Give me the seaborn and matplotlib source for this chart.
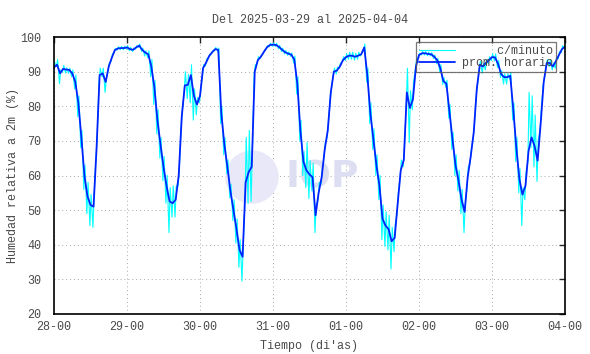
import numpy as np
import pandas as pd
import matplotlib
matplotlib.use('Agg')
import matplotlib.pyplot as plt
import matplotlib.dates as mdates
from matplotlib.patches import Ellipse
import seaborn as sns

# promedio horario de humedad relativa (%), 00h..23h de cada dia
hum_28 = [91.2, 92.0, 89.5, 90.8, 90.6, 90.5, 89.5, 87.0, 81.0, 71.0, 60.0, 54.0,
          51.5, 51.0, 68.0, 89.0, 89.5, 87.0, 91.5, 94.0, 96.2, 96.7, 96.8, 96.8]
hum_29 = [97.0, 96.5, 96.3, 97.0, 97.5, 96.3, 95.5, 95.0, 91.5, 85.5, 76.0, 69.0,
          62.5, 57.0, 52.5, 52.0, 53.0, 60.0, 77.0, 86.0, 86.2, 89.0, 83.0, 80.5]
hum_30 = [83.0, 91.0, 92.6, 94.5, 95.6, 96.5, 96.3, 78.0, 69.0, 62.5, 55.5, 50.0,
          44.5, 38.5, 36.5, 58.0, 61.0, 62.5, 90.0, 93.3, 94.3, 95.7, 97.0, 97.7]
hum_31 = [97.8, 97.7, 97.1, 96.3, 95.6, 95.2, 94.9, 93.5, 86.5, 73.0, 64.0, 61.5,
          60.3, 59.5, 48.5, 55.0, 59.5, 67.5, 73.0, 84.0, 90.0, 90.3, 91.5, 93.3]
hum_01 = [94.2, 94.6, 94.6, 94.3, 94.6, 95.0, 97.0, 89.0, 78.0, 70.5, 63.0, 57.0,
          47.5, 45.5, 44.5, 41.0, 42.0, 52.0, 61.5, 64.5, 84.0, 79.5, 82.0, 91.5]
hum_02 = [94.8, 95.3, 95.3, 95.1, 95.0, 94.3, 93.3, 91.0, 87.3, 86.5, 78.5, 70.5,
          63.0, 58.5, 53.0, 49.5, 59.5, 65.5, 72.5, 85.0, 92.0, 91.5, 92.5, 93.3]
hum_03 = [94.2, 94.1, 92.2, 89.3, 88.4, 88.4, 88.8, 79.0, 68.0, 59.0, 54.5, 57.0,
          67.0, 71.0, 68.5, 64.3, 75.0, 87.0, 92.5, 92.5, 91.5, 93.0, 94.8, 96.5]
hum_fin = [97.2]

# c/minuto: cuanto baja / sube la serie por minuto dentro de cada hora (%)
baja_28 = [1, .5, 3, 1, 1, 1, 1, 2, 4, 3, 4, 5, 6, 6, 3, 2, 1, 3, 1, 1, .5, .5, .5, .5]
alta_28 = [1.5, 1.5, 1, 1, .5, .5, 1, 2, 2, 2, 3, 4, 3, 4, 3, 2, 1.5, 1, 1, 1, .5, .5, .5, .5]
baja_29 = [.5, .5, .5, .5, .5, .5, 1, 1, 3, 5, 4, 4, 4, 5, 9, 4, 5, 3, 3, 2, 4, 8, 7, 3]
alta_29 = [.5, .5, .5, .5, .5, .5, .5, 1, 2, 2, 3, 2, 3, 3, 4, 5, 4, 2, 2, 4, 3, 3, 2, 2]
baja_30 = [2, 2, 1, .5, .5, .5, .5, 3, 3, 2, 2, 3, 4, 5, 7, 5, 9, 10, 1, 1, .5, .5, .5, .5]
alta_30 = [1, 1, 1, .5, .5, .5, .5, 2, 2, 2, 2, 3, 3, 3, 3, 13, 12, 4, 2, 1, .5, .5, .5, .5]
baja_31 = [.5, .5, .5, .5, .5, .5, .5, 1, 3, 3, 4, 5, 7, 4, 5, 2, 2, 2, 2, 2, 1, 1, .5, .5]
alta_31 = [.5, .5, .5, .5, .5, .5, .5, 1, 2, 3, 3, 8, 4, 4, 3, 3, 2, 2, 2, 1, 1, 1, 1, 1]
baja_01 = [1, 1, 1, 1, 1, .5, 1, 2, 3, 3, 3, 4, 6, 6, 6, 8, 4, 3, 2, 2, 4, 10, 3, 1]
alta_01 = [1, 1, 1, 1, 1, .5, 1, 2, 3, 3, 3, 3, 4, 4, 4, 4, 4, 3, 3, 3, 7, 5, 5, 2]
baja_02 = [.5, .5, .5, .5, .5, .5, 1, 1, 1, 1, 2, 3, 3, 3, 4, 6, 3, 2, 2, 2, 1, 2, 2, 1]
alta_02 = [.5, .5, .5, .5, .5, .5, .5, 1, 1, 1, 2, 2, 3, 3, 3, 2, 3, 2, 2, 1, 1, 1, 1, 1]
baja_03 = [1, 1, 1, 1, 2, 2, 1, 3, 4, 4, 9, 4, 3, 3, 6, 6, 2, 1, 1, 1, 1, 2, 1, 1]
alta_03 = [1, 1, 1, 1, 1, 1, 1, 2, 3, 3, 2, 4, 17, 12, 9, 6, 4, 1, 1, 1, 1, 1, 1, 1]
baja_fin = [.5]
alta_fin = [.5]

prom = hum_28 + hum_29 + hum_30 + hum_31 + hum_01 + hum_02 + hum_03 + hum_fin
baja = baja_28 + baja_29 + baja_30 + baja_31 + baja_01 + baja_02 + baja_03 + baja_fin
alta = alta_28 + alta_29 + alta_30 + alta_31 + alta_01 + alta_02 + alta_03 + alta_fin

t0 = pd.Timestamp('2025-03-28 00:00')
tiempo = pd.date_range(t0, periods=len(prom), freq='h')
df_h = pd.DataFrame({'tiempo': tiempo, 'hr': prom})

# serie "por minuto": bajada y subida alrededor de cada hora
off = pd.Timedelta(minutes=12)
t_min, v_min = [], []
for t, v, lo, hi in zip(tiempo, prom, baja, alta):
    t_min += [t - off, t + off]
    v_min += [v - lo, v + hi]
df_m = pd.DataFrame({'tiempo': t_min, 'hr': v_min})

sns.set_style('white')
plt.rcParams['font.family'] = ['Liberation Mono', 'DejaVu Sans Mono']
gris = '#4a4a4a'

fig = plt.figure(figsize=(5.9, 3.54), dpi=100)
ax = fig.add_axes([54 / 590, 1 - 314 / 354, 511 / 590, 277 / 354])

# marca de agua IOP
ax.add_patch(Ellipse((252 / 590, 1 - 177 / 354), 52 / 590, 52 / 354,
                     transform=fig.transFigure, color='#e8e8f8', zorder=0.6))
ax.text(322 / 590, 1 - 177 / 354, 'IOP', transform=fig.transFigure,
        fontsize=27, fontweight='bold', family='DejaVu Sans', color='#dedef2',
        ha='center', va='center', zorder=0.6)

sns.lineplot(data=df_m, x='tiempo', y='hr', color='#00ffff', lw=0.8,
             estimator=None, sort=False, label='     c/minuto', ax=ax)
sns.lineplot(data=df_h, x='tiempo', y='hr', color='#0022ff', lw=1.3,
             estimator=None, label='prom. horario', ax=ax)

ax.set_xlim(t0, t0 + pd.Timedelta(days=7))
ax.set_ylim(20, 100)
ax.set_yticks(range(20, 101, 10))
ax.set_xticks(pd.date_range(t0, periods=8, freq='D'))
ax.xaxis.set_major_formatter(mdates.DateFormatter('%d-%H'))

ax.grid(True, ls=(0, (1, 3)), color='#a8a8a8', lw=0.7)
for s in ax.spines.values():
    s.set_color('black')
    s.set_linewidth(1.2)
ax.tick_params(direction='in', top=True, right=True, length=4, width=1,
               labelsize=8.5, labelcolor=gris)
ax.tick_params(axis='y', pad=9)
ax.tick_params(axis='x', pad=5)

ax.set_title('Del 2025-03-29 al 2025-04-04', fontsize=8.5, color=gris, pad=10)
ax.set_xlabel('Tiempo (di\'as)', fontsize=8.5, color=gris, labelpad=5)
ax.set_ylabel('Humedad relativa a 2m (%)', fontsize=8.5, color=gris, labelpad=1)

leg = ax.legend(loc='upper right', bbox_to_anchor=(0.982, 0.983), borderaxespad=0,
                fontsize=8.5, frameon=True, fancybox=False, handlelength=3.0,
                labelspacing=0.05, borderpad=0.25, handletextpad=0.6)
leg.get_frame().set_facecolor('none')
leg.get_frame().set_edgecolor('#555555')
leg.get_frame().set_linewidth(0.9)
for t in leg.get_texts():
    t.set_color(gris)

fig.savefig('out.png', dpi=100)
